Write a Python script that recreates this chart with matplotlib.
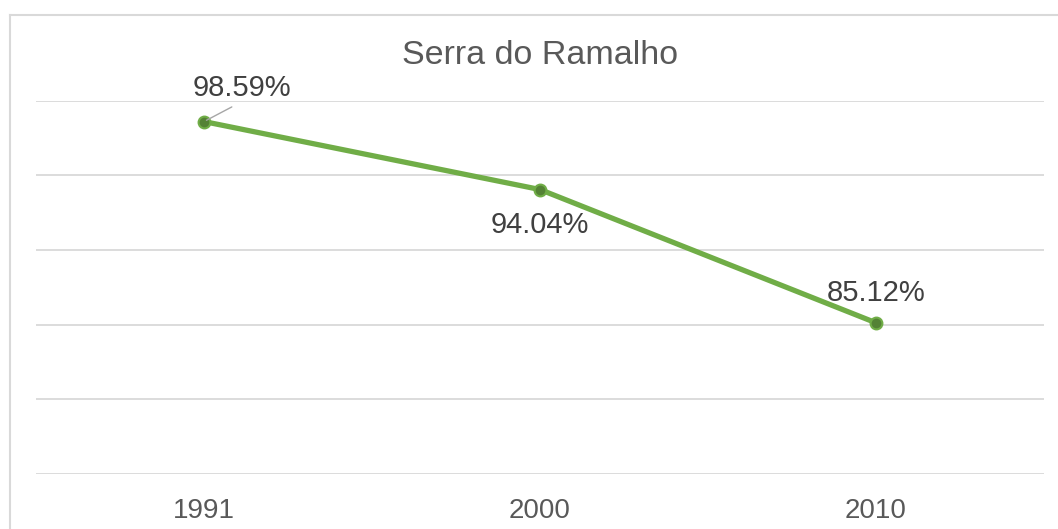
import matplotlib
matplotlib.use("Agg")
import matplotlib.pyplot as plt
from matplotlib.lines import Line2D

years = ["1991", "2000", "2010"]
values = [98.59, 94.04, 85.12]
labels = ["98.59%", "94.04%", "85.12%"]
title = "Serra do Ramalho"

plt.rcParams['font.family'] = ['Liberation Sans', 'DejaVu Sans']

W, H = 1058, 529
fig = plt.figure(figsize=(W / 100, H / 100), dpi=100)
ax = fig.add_axes([36 / W, (H - 474) / H, (1044 - 36) / W, (474 - 100.5) / H])

x = list(range(len(years)))
ax.plot(x, values, color='#70AD47', lw=3.8, marker='o', ms=8.5,
        markerfacecolor='#548235', markeredgecolor='#70AD47', mew=1.5,
        solid_capstyle='round', zorder=3)

ax.set_xlim(-0.5, len(years) - 0.5)
ax.set_ylim(75, 100)
ax.set_yticks([75, 80, 85, 90, 95, 100])
ax.yaxis.grid(True, color='#d9d9d9', lw=1.3)
ax.set_axisbelow(True)
ax.tick_params(axis='y', left=False, labelleft=False)
ax.set_xticks(x)
ax.set_xticklabels(years, fontsize=20, color='#595959')
ax.tick_params(axis='x', length=0, pad=17)
for s in ax.spines.values():
    s.set_visible(False)

# data labels (offsets in pixels relative to each point)
offsets = [(38, 34), (0, -35), (0, 30)]
for i, (v, lab, off) in enumerate(zip(values, labels, offsets)):
    kw = {}
    if i == 0:
        kw['arrowprops'] = dict(arrowstyle='-', color='#a6a6a6', lw=1.0,
                                relpos=(0.5, 0.0), shrinkA=4, shrinkB=2)
    ax.annotate(lab, xy=(i, v), xytext=off, textcoords='offset pixels',
                ha='center', va='center', fontsize=21, color='#404040', **kw)

fig.text(540 / W, 1 - 55 / H, title, ha='center', va='center',
         fontsize=24.5, color='#595959')

# chart border (top and left visible)
fig.add_artist(Line2D([10 / W, 1.0], [1 - 15 / H, 1 - 15 / H],
                      transform=fig.transFigure, color='#d9d9d9', lw=1.5))
fig.add_artist(Line2D([10 / W, 10 / W], [0, 1 - 15 / H],
                      transform=fig.transFigure, color='#d9d9d9', lw=1.5))

fig.savefig('out.png', dpi=100)
